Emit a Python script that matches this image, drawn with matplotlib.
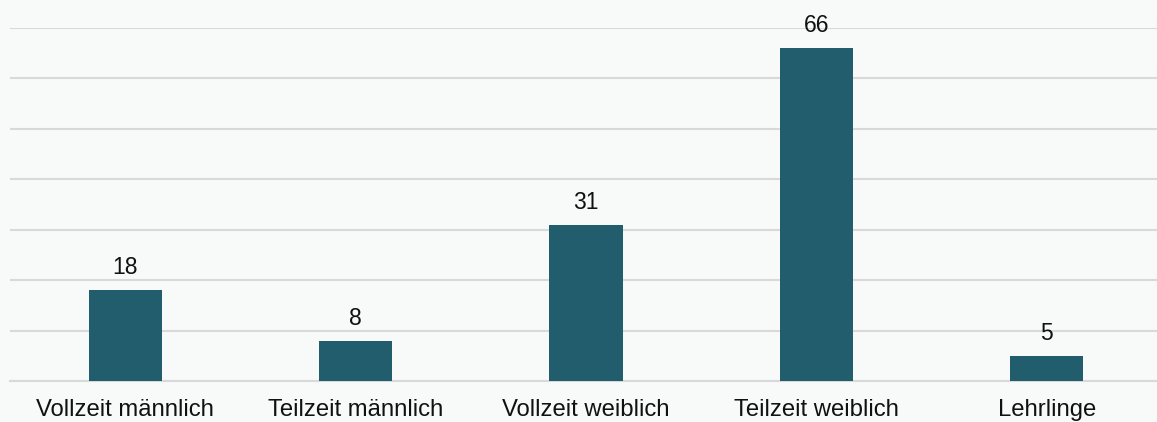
import matplotlib
matplotlib.use('Agg')
import matplotlib.pyplot as plt

categories = ['Vollzeit männlich', 'Teilzeit männlich', 'Vollzeit weiblich',
              'Teilzeit weiblich', 'Lehrlinge']
values = [18, 8, 31, 66, 5]

plt.rcParams['font.family'] = ['Liberation Sans', 'DejaVu Sans']

bg = '#f8fafa'
bar_color = '#225d6d'

fig = plt.figure(figsize=(11.57, 4.22), dpi=100, facecolor=bg)
ax = fig.add_axes([10 / 1157, 1 - 381 / 422, 1152 / 1157, (381 - 28) / 422])
ax.set_facecolor(bg)

x = list(range(len(categories)))
bars = ax.bar(x, values, width=0.317, color=bar_color, zorder=3)

# value labels above the bars
for b, v in zip(bars, values):
    ax.annotate(str(v), (b.get_x() + b.get_width() / 2, v),
                xytext=(0, 8), textcoords='offset points',
                ha='center', va='bottom', fontsize=16.5, color='#111111')

ax.set_xlim(-0.5, len(categories) - 0.5)
ax.set_ylim(0, 70)
ax.set_yticks(range(0, 71, 10))
ax.yaxis.grid(True, color='#d9d9d9', linewidth=1.5, zorder=0)
ax.tick_params(axis='y', left=False, labelleft=False)
ax.tick_params(axis='x', length=0, pad=13)
ax.set_xticks(x)
ax.set_xticklabels(categories, fontsize=17.2, color='#111111')
for s in ['top', 'right', 'left']:
    ax.spines[s].set_visible(False)
ax.spines['bottom'].set_color('#d9d9d9')
ax.spines['bottom'].set_linewidth(1.5)

fig.savefig('out.png', dpi=100, facecolor=bg)
